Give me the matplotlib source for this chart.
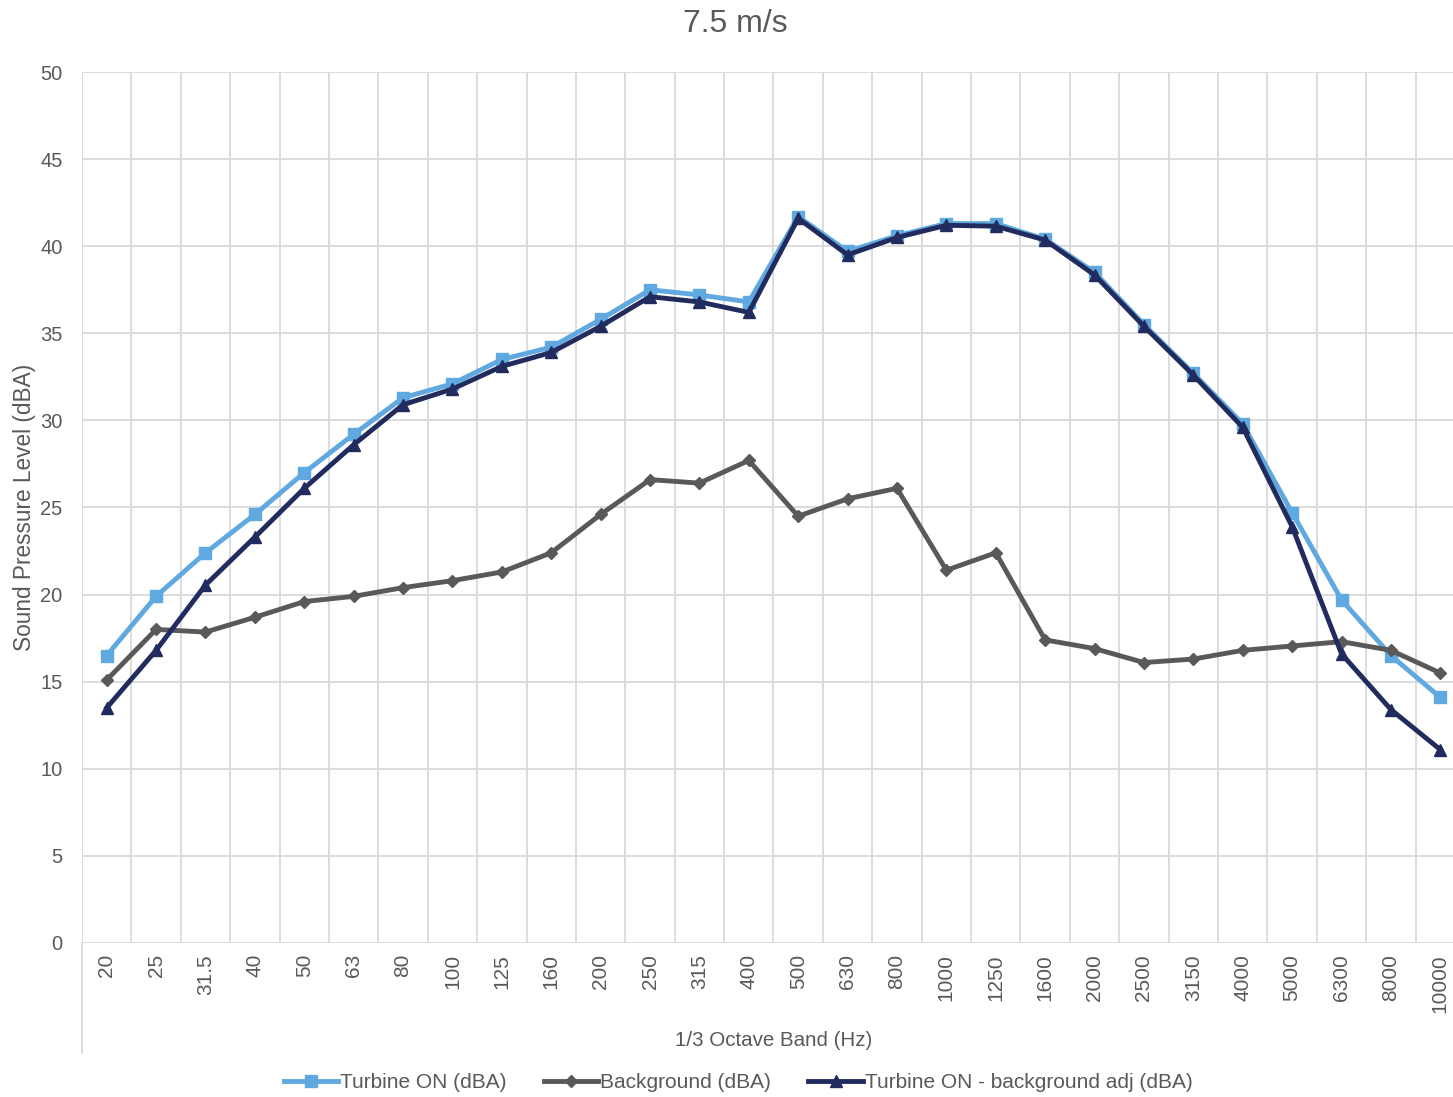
#!/usr/bin/env python3

import numpy as np
import matplotlib
matplotlib.use('Agg')
import matplotlib.pyplot as plt
from matplotlib.lines import Line2D

bands = ['20', '25', '31.5', '40', '50', '63', '80', '100', '125', '160',
         '200', '250', '315', '400', '500', '630', '800', '1000', '1250',
         '1600', '2000', '2500', '3150', '4000', '5000', '6300', '8000',
         '10000']

turbine_on = [16.5, 19.9, 22.4, 24.6, 27.0, 29.2, 31.3, 32.1, 33.5, 34.2,
              35.8, 37.5, 37.2, 36.8, 41.7, 39.7, 40.6, 41.3, 41.3, 40.4,
              38.5, 35.5, 32.7, 29.8, 24.7, 19.7, 16.5, 14.1]

background = [15.1, 18.0, 17.85, 18.7, 19.6, 19.9, 20.4, 20.8, 21.3, 22.4,
              24.6, 26.6, 26.4, 27.7, 24.5, 25.5, 26.1, 21.4, 22.4, 17.4,
              16.9, 16.1, 16.3, 16.8, 17.05, 17.3, 16.8, 15.5]

turbine_adj = [13.5, 16.8, 20.55, 23.3, 26.1, 28.6, 30.9, 31.8, 33.1, 33.9,
               35.4, 37.1, 36.8, 36.2, 41.6, 39.5, 40.5, 41.2, 41.15, 40.35,
               38.35, 35.4, 32.6, 29.6, 23.9, 16.6, 13.4, 11.1]

txt = '#595959'
grid_c = '#d9d9d9'
c_on = '#5fa9e0'
c_bg = '#595959'
c_adj = '#212b5e'

plt.rcParams['font.family'] = ['Liberation Sans', 'DejaVu Sans']

fig = plt.figure(figsize=(14.53, 10.97), dpi=100)
ax = fig.add_axes([82/1453, 1-943/1097, 1383/1453, 871/1097])

x = np.arange(len(bands))
ax.plot(x, turbine_on, color=c_on, lw=3.5, marker='s', ms=9,
        label='Turbine ON (dBA)', zorder=3)
ax.plot(x, background, color=c_bg, lw=3.5, marker='D', ms=6.5,
        label='Background (dBA)', zorder=3)
ax.plot(x, turbine_adj, color=c_adj, lw=3.5, marker='^', ms=9,
        label='Turbine ON - background adj (dBA)', zorder=4)

ax.set_xlim(-0.5, len(bands) - 0.5)
ax.set_ylim(0, 50)
ax.set_yticks(np.arange(0, 51, 5))
ax.set_xticks(x)
ax.set_xticklabels(bands, rotation=90)
ax.set_xticks(np.arange(-0.5, len(bands), 1), minor=True)

ax.grid(axis='y', which='major', color=grid_c, lw=1.3)
ax.grid(axis='x', which='minor', color=grid_c, lw=1.3)
ax.set_axisbelow(True)
for s in ax.spines.values():
    s.set_visible(False)
ax.tick_params(axis='both', which='both', length=0, colors=txt)
ax.tick_params(axis='y', pad=14, labelsize=14.5)
ax.tick_params(axis='x', pad=8, labelsize=15)

# left category axis line running down past the labels
ax.add_line(Line2D([-0.5, -0.5], [0, -6.3], color=grid_c, lw=1.3,
                   clip_on=False))

fig.text(735/1453, 1-24/1097, '7.5 m/s', fontsize=23, color=txt,
         ha='center', va='center')
ax.set_ylabel('Sound Pressure Level (dBA)', fontsize=16.3, color=txt,
              labelpad=3)
fig.text((82+1465)/2/1453, 1-1040/1097, '1/3 Octave Band (Hz)', fontsize=14.8,
         color=txt, ha='center', va='center')

leg = fig.legend(loc='center', bbox_to_anchor=(738/1453, 1-1083/1097), ncol=3,
                 frameon=False, fontsize=15, handlelength=2.6,
                 columnspacing=1.8, handletextpad=0.1)
for t in leg.get_texts():
    t.set_color(txt)

fig.savefig('out.png', dpi=100)
